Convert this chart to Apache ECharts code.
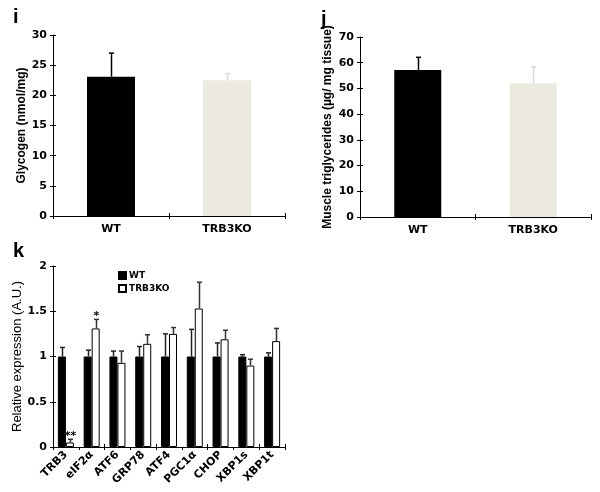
<!DOCTYPE html>
<html><head><meta charset="utf-8">
<script src="https://cdn.jsdelivr.net/npm/echarts@6/dist/echarts.min.js"></script>
<style>html,body{margin:0;padding:0;background:#fff}#c{width:600px;height:492px}</style>
</head><body><div id="c"></div>
<script>
// Panel i: glycogen
const glyCats = ['WT', 'TRB3KO'];
const glyMean = [23.1, 22.5];
const glyErrTop = [27.0, 23.6];
const glyTicks = [0, 5, 10, 15, 20, 25, 30];
// Panel j: muscle triglycerides
const tgCats = ['WT', 'TRB3KO'];
const tgMean = [57.2, 52.0];
const tgErrTop = [62.1, 58.4];
const tgTicks = [0, 10, 20, 30, 40, 50, 60, 70];
// Panel k: relative expression
const genes = ['TRB3', 'eIF2α', 'ATF6', 'GRP78', 'ATF4', 'PGC1α', 'CHOP', 'XBP1s', 'XBP1t'];
const wtMean = [1, 1, 1, 1, 1, 1, 1, 1, 1];
const wtErrTop = [1.10, 1.07, 1.06, 1.11, 1.25, 1.30, 1.15, 1.02, 1.04];
const koMean = [0.05, 1.31, 0.93, 1.14, 1.25, 1.53, 1.19, 0.90, 1.17];
const koErrTop = [0.085, 1.41, 1.06, 1.24, 1.32, 1.82, 1.29, 0.97, 1.31];
const koSig = ['**', '*', '', '', '', '', '', '', ''];
const exprTicks = [0, 0.5, 1, 1.5, 2];

const FONT = 'DejaVu Sans';
const chart = echarts.init(document.getElementById('c'), null, {renderer: 'canvas'});

function errSeries(xi, yi, idxs, means, tops, offset, color, sig) {
  const data = idxs.map(i => [i, means[i], tops[i], sig ? sig[i] : '']);
  return {
    type: 'custom', xAxisIndex: xi, yAxisIndex: yi, z: 5, silent: true,
    data: data,
    renderItem: function (params, api) {
      const a = api.coord([api.value(0), api.value(1)]);
      const b = api.coord([api.value(0), api.value(2)]);
      const x = Math.round(a[0] + offset) + 0.5;
      const ch = [
        {type: 'line', shape: {x1: x, y1: a[1], x2: x, y2: b[1]}, style: {stroke: color, lineWidth: 1.5}},
        {type: 'line', shape: {x1: x - 2.5, y1: b[1], x2: x + 2.5, y2: b[1]}, style: {stroke: color, lineWidth: 1.5}}
      ];
      const s = data[params.dataIndex][3];
      if (s) ch.push({type: 'text', style: {text: s, x: x, y: b[1] + 2, align: 'center', verticalAlign: 'bottom',
        fontFamily: FONT, fontWeight: 'bold', fontSize: 11, fill: '#000'}});
      return {type: 'group', children: ch};
    }
  };
}

function valAxis(gi, ticks, name, nameGap, nameStyle) {
  return {
    type: 'value', gridIndex: gi, position: 'left', min: ticks[0], max: ticks[ticks.length - 1],
    interval: ticks[1] - ticks[0],
    name: name, nameLocation: 'middle', nameGap: nameGap, nameTextStyle: nameStyle,
    axisLine: {show: true, lineStyle: {color: '#000', width: 1}},
    axisTick: {show: true, length: 3, lineStyle: {color: '#000'}},
    axisLabel: {color: '#000', fontFamily: FONT, fontWeight: 'bold', fontSize: 11, margin: 6},
    splitLine: {show: false}
  };
}
function valOverlay(gi, ticks) {
  return {
    type: 'value', gridIndex: gi, position: 'left', min: ticks[0], max: ticks[ticks.length - 1],
    interval: ticks[1] - ticks[0],
    axisLine: {show: false}, axisTick: {show: true, inside: true, length: 3, lineStyle: {color: '#000'}},
    axisLabel: {show: false}, splitLine: {show: false}
  };
}
function catAxis(gi, cats, label) {
  return {
    type: 'category', gridIndex: gi, position: 'bottom', data: cats,
    axisLine: {show: true, lineStyle: {color: '#000', width: 1}},
    axisTick: {show: true, length: 3, lineStyle: {color: '#000'}},
    axisLabel: label,
    splitLine: {show: false}
  };
}
function catOverlay(gi, cats) {
  return {
    type: 'category', gridIndex: gi, position: 'bottom', data: cats,
    axisLine: {show: false}, axisTick: {show: true, inside: true, length: 3, lineStyle: {color: '#000'}},
    axisLabel: {show: false}, splitLine: {show: false}
  };
}

const catLabel = {color: '#000', fontFamily: FONT, fontWeight: 'bold', fontSize: 11, margin: 8};
const boldName = {color: '#000', fontFamily: 'Liberation Sans', fontWeight: 'bold', fontSize: 12};

const option = {
  backgroundColor: '#fff',
  animation: false,
  title: [
    {text: 'i', left: 8, top: 2, textStyle: {fontFamily: 'Liberation Sans', fontWeight: 'bold', fontSize: 20, color: '#000'}},
    {text: 'j', left: 316, top: 4, textStyle: {fontFamily: 'Liberation Sans', fontWeight: 'bold', fontSize: 20, color: '#000'}},
    {text: 'k', left: 8, top: 236, textStyle: {fontFamily: 'Liberation Sans', fontWeight: 'bold', fontSize: 20, color: '#000'}}
  ],
  legend: {
    data: ['WT', 'TRB3KO'], orient: 'vertical', left: 113, top: 266, itemWidth: 7, itemHeight: 7, itemGap: 4,
    icon: 'rect', textStyle: {fontFamily: FONT, fontWeight: 'bold', fontSize: 9, color: '#000', padding: [0, 0, 0, -2]}
  },
  grid: [
    {left: 53, top: 35, width: 232, height: 181},
    {left: 360, top: 37, width: 231, height: 180},
    {left: 53, top: 266, width: 232, height: 181}
  ],
  xAxis: [
    catAxis(0, glyCats, catLabel),
    catAxis(1, tgCats, catLabel),
    catAxis(2, genes, {color: '#000', fontFamily: FONT, fontWeight: 'bold', fontSize: 11, rotate: 45, margin: 6, interval: 0}),
    catOverlay(0, glyCats), catOverlay(1, tgCats), catOverlay(2, genes)
  ],
  yAxis: [
    valAxis(0, glyTicks, 'Glycogen (nmol/mg)', 22, boldName),
    valAxis(1, tgTicks, 'Muscle triglycerides (µg/ mg tissue)', 26, boldName),
    valAxis(2, exprTicks, 'Relative expression (A.U.)', 20, {color: '#000', fontFamily: 'Liberation Sans', fontSize: 13}),
    valOverlay(0, glyTicks), valOverlay(1, tgTicks), valOverlay(2, exprTicks)
  ],
  series: [
    {type: 'bar', xAxisIndex: 0, yAxisIndex: 0, barWidth: 48,
      data: glyMean.map((v, i) => ({value: v, itemStyle: {color: i === 0 ? '#000' : '#ECEADF'}}))},
    errSeries(0, 0, [0], glyMean, glyErrTop, 0, '#000'),
    errSeries(0, 0, [1], glyMean, glyErrTop, 0, '#d9d9d9'),
    {type: 'bar', xAxisIndex: 1, yAxisIndex: 1, barWidth: 47,
      data: tgMean.map((v, i) => ({value: v, itemStyle: {color: i === 0 ? '#000' : '#ECEADF'}}))},
    errSeries(1, 1, [0], tgMean, tgErrTop, 0, '#000'),
    errSeries(1, 1, [1], tgMean, tgErrTop, 0, '#d9d9d9'),
    {name: 'WT', type: 'bar', xAxisIndex: 2, yAxisIndex: 2, barWidth: 8, barGap: '0%', data: wtMean,
      itemStyle: {color: '#000', borderColor: '#000', borderWidth: 1}},
    {name: 'TRB3KO', type: 'bar', xAxisIndex: 2, yAxisIndex: 2, barWidth: 8, barGap: '0%', data: koMean,
      itemStyle: {color: '#fff', borderColor: '#000', borderWidth: 1}},
    errSeries(2, 2, genes.map((g, i) => i), wtMean, wtErrTop, -4, '#222'),
    errSeries(2, 2, genes.map((g, i) => i), koMean, koErrTop, 4, '#333', koSig)
  ]
};
chart.setOption(option);
</script>
</body></html>
